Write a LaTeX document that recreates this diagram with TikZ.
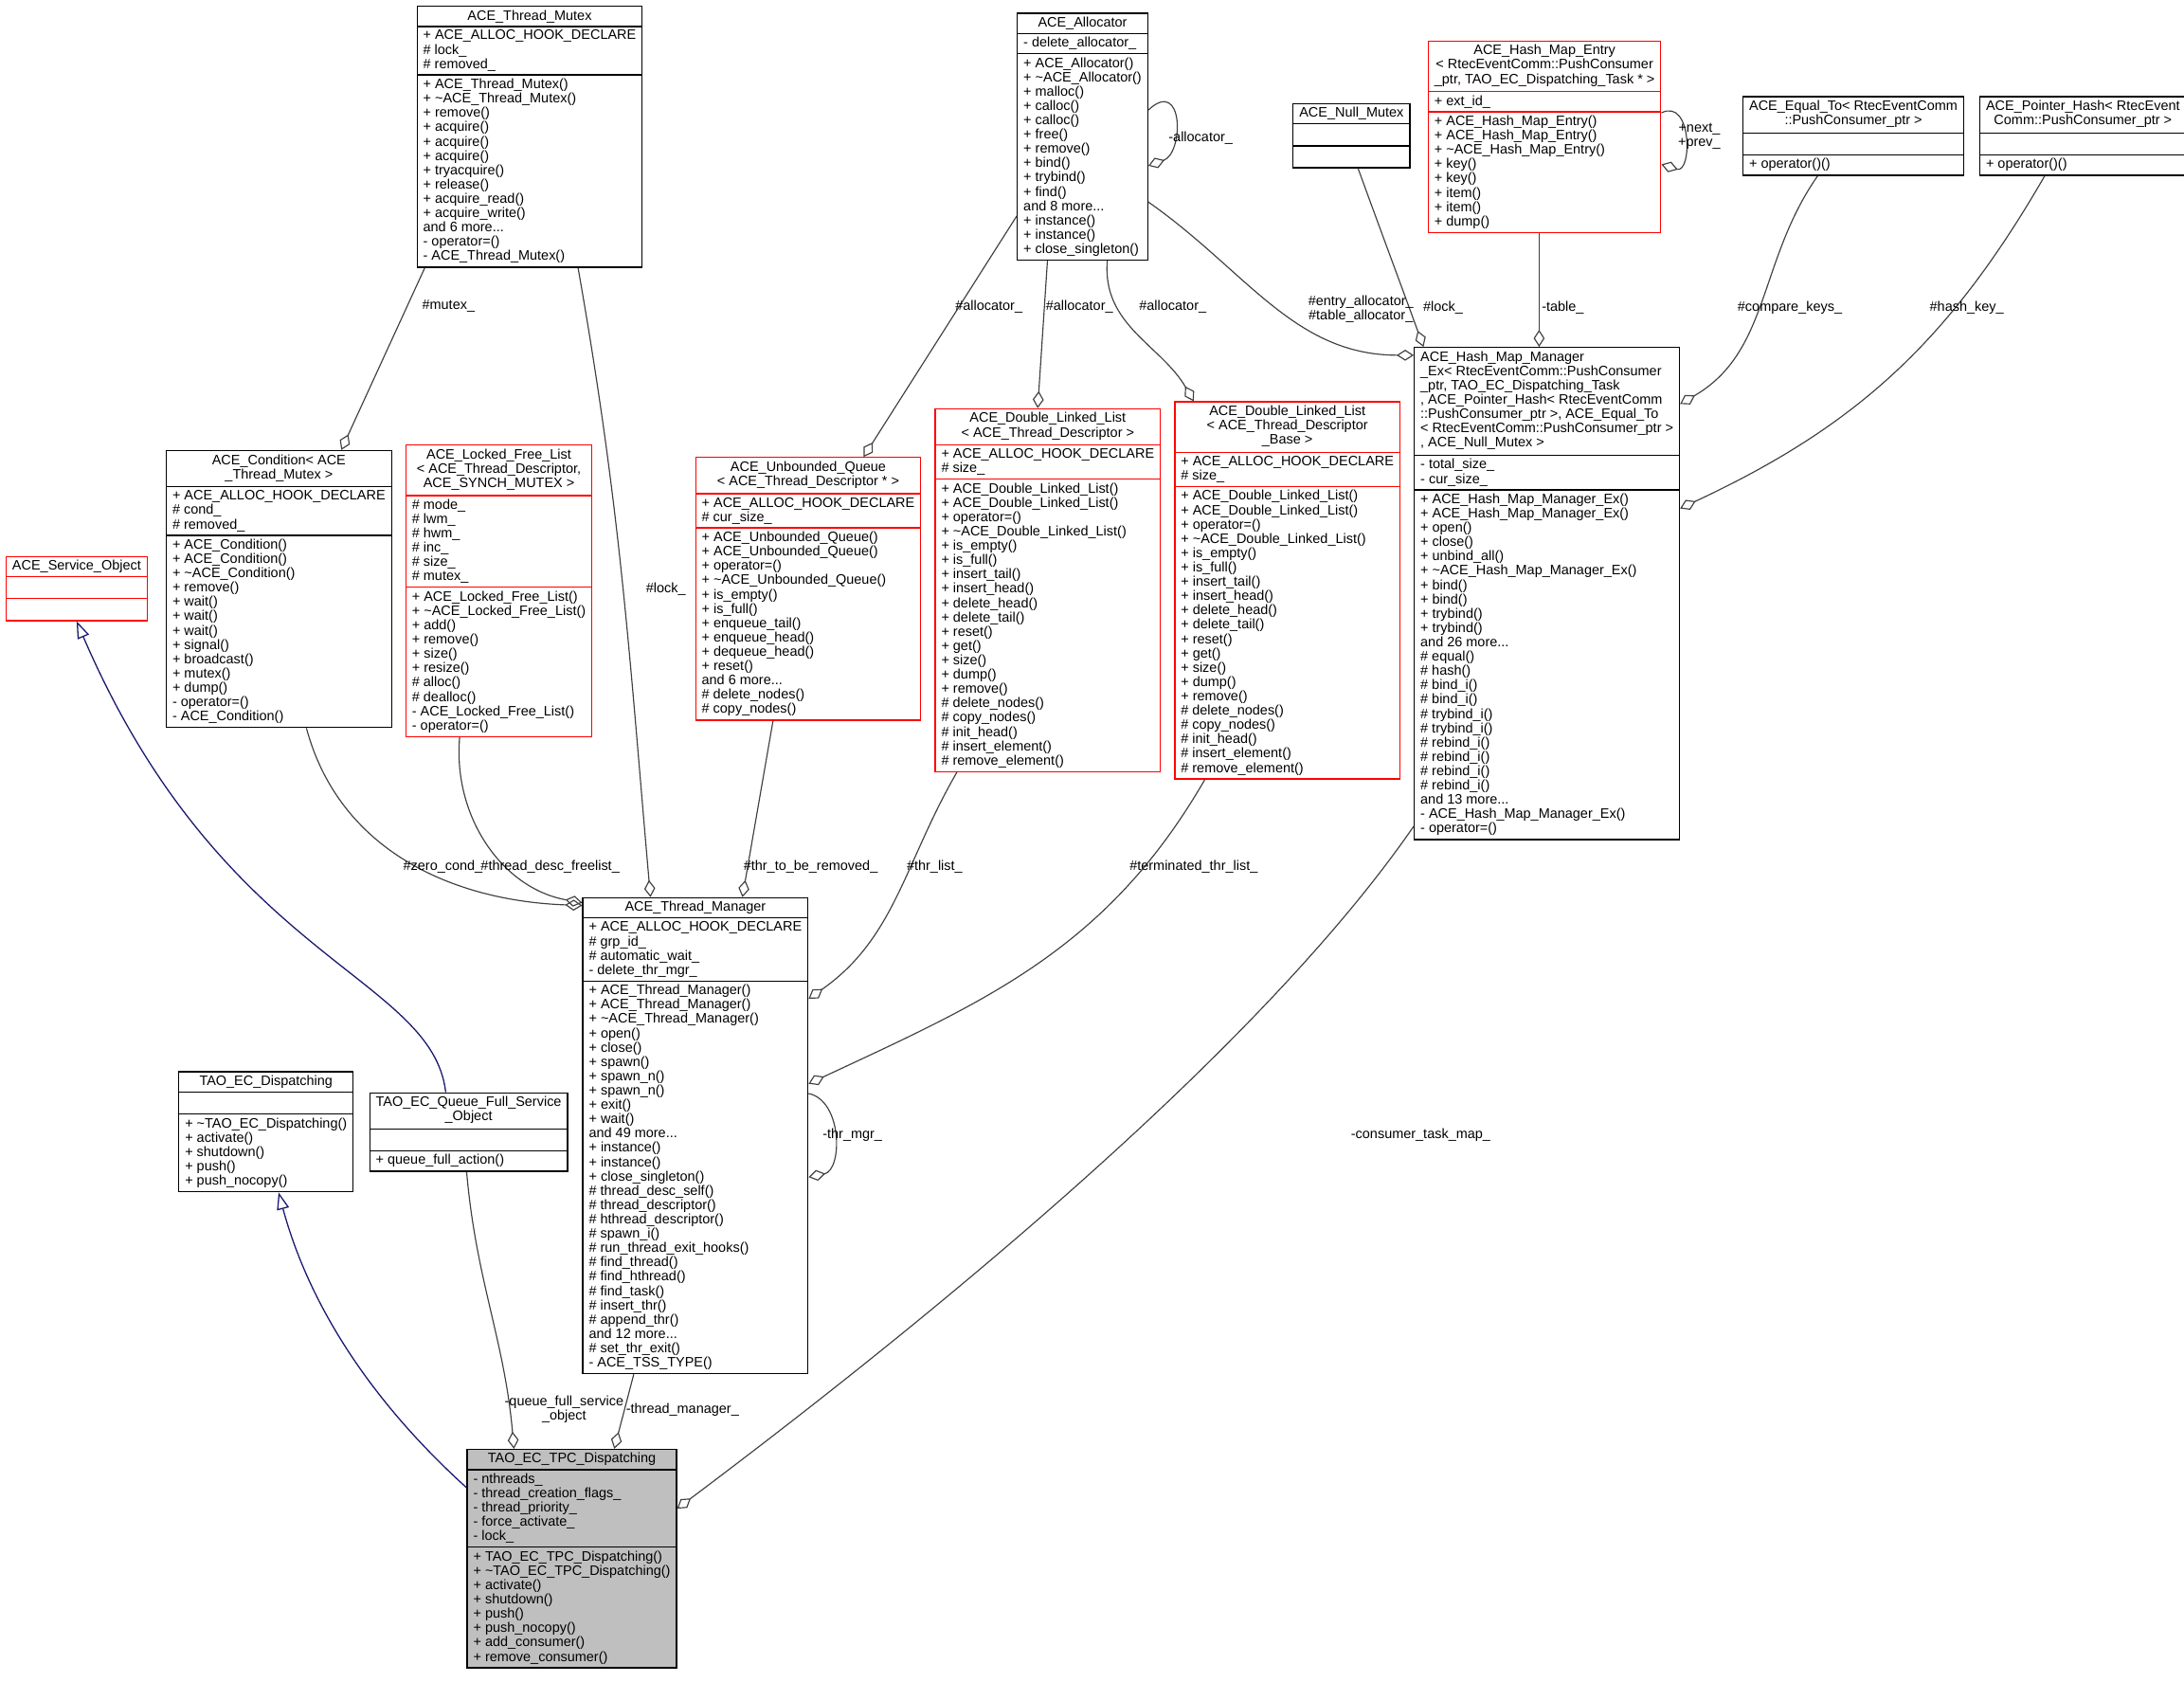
\documentclass[tikz,border=0pt]{standalone}
\usepackage{fontspec}
\setmainfont{Liberation Sans}
\usetikzlibrary{shapes.multipart,arrows.meta,calc}
\newcommand{\ttl}[1]{\begin{tabular}{@{}c@{}}#1\end{tabular}}
\newcommand{\tl}{\textasciitilde}
\definecolor{navyblue}{RGB}{25,25,112}
\tikzset{
  cls/.style={draw=black, fill=white, rectangle split, rectangle split parts=3,
    rectangle split part align={center,left,left}, align=left, anchor=north west,
    inner xsep=2.5pt, inner ysep=1.3pt, font=\fontsize{5.6}{5.85}\selectfont, line width=0.5pt},
  redcls/.style={cls, draw=red},
  agg/.style={-{Diamond[open,length=7pt,width=4.5pt]}, draw=black!75, line width=0.45pt},
  inh/.style={-{Triangle[open,length=7pt,width=5pt]}, draw=navyblue, line width=0.5pt},
  lbl/.style={font=\fontsize{5.6}{5.85}\selectfont, inner sep=0.5pt, align=center}
}
\begin{document}
\begin{tikzpicture}[x=0.02cm,y=-0.02cm]
  \useasboundingbox (0,0) rectangle (1568,1207);
  % classes
  \node[cls, minimum width=3.14cm] (thread mutex) at (299,4) {ACE\_Thread\_Mutex
    \nodepart{two}+ ACE\_ALLOC\_HOOK\_DECLARE\\\# lock\_\\\# removed\_
    \nodepart{three}+ ACE\_Thread\_Mutex()\\+ \tl ACE\_Thread\_Mutex()\\+ remove()\\+ acquire()\\+ acquire()\\+ acquire()\\+ tryacquire()\\+ release()\\+ acquire\_read()\\+ acquire\_write()\\and 6 more...\\- operator=()\\- ACE\_Thread\_Mutex()};
  \node[cls, minimum width=1.82cm] (allocator) at (730,9) {ACE\_Allocator
    \nodepart{two}- delete\_allocator\_
    \nodepart{three}+ ACE\_Allocator()\\+ \tl ACE\_Allocator()\\+ malloc()\\+ calloc()\\+ calloc()\\+ free()\\+ remove()\\+ bind()\\+ trybind()\\+ find()\\and 8 more...\\+ instance()\\+ instance()\\+ close\_singleton()};
  \node[redcls, minimum width=3.24cm] (hash entry) at (1025,29) {\ttl{ACE\_Hash\_Map\_Entry\\< RtecEventComm::PushConsumer\\\_ptr, TAO\_EC\_Dispatching\_Task * >}
    \nodepart{two}+ ext\_id\_
    \nodepart{three}+ ACE\_Hash\_Map\_Entry()\\+ ACE\_Hash\_Map\_Entry()\\+ \tl ACE\_Hash\_Map\_Entry()\\+ key()\\+ key()\\+ item()\\+ item()\\+ dump()};
  \node[cls, minimum width=1.6cm] (null mutex) at (928,74) {ACE\_Null\_Mutex
    \nodepart{two}\strut \nodepart{three}\strut};
  \node[cls, minimum width=3.08cm] (equal to) at (1251,69) {\ttl{ACE\_Equal\_To< RtecEventComm\\::PushConsumer\_ptr >}
    \nodepart{two}\strut \nodepart{three}+ operator()()};
  \node[cls, minimum width=2.86cm] (pointer hash) at (1421,69) {\ttl{ACE\_Pointer\_Hash< RtecEvent\\Comm::PushConsumer\_ptr >}
    \nodepart{two}\strut \nodepart{three}+ operator()()};
  \node[cls, minimum width=3.64cm] (hash manager) at (1015,249) {\begin{tabular}{@{}l@{}}ACE\_Hash\_Map\_Manager\\\_Ex< RtecEventComm::PushConsumer\\\_ptr, TAO\_EC\_Dispatching\_Task\\*, ACE\_Pointer\_Hash< RtecEventComm\\::PushConsumer\_ptr >, ACE\_Equal\_To\\< RtecEventComm::PushConsumer\_ptr >\\, ACE\_Null\_Mutex >\end{tabular}
    \nodepart{two}- total\_size\_\\- cur\_size\_
    \nodepart{three}+ ACE\_Hash\_Map\_Manager\_Ex()\\+ ACE\_Hash\_Map\_Manager\_Ex()\\+ open()\\+ close()\\+ unbind\_all()\\+ \tl ACE\_Hash\_Map\_Manager\_Ex()\\+ bind()\\+ bind()\\+ trybind()\\+ trybind()\\and 26 more...\\\# equal()\\\# hash()\\\# bind\_i()\\\# bind\_i()\\\# trybind\_i()\\\# trybind\_i()\\\# rebind\_i()\\\# rebind\_i()\\\# rebind\_i()\\\# rebind\_i()\\and 13 more...\\- ACE\_Hash\_Map\_Manager\_Ex()\\- operator=()};
  \node[redcls, minimum width=1.98cm] (service object) at (4,399) {ACE\_Service\_Object
    \nodepart{two}\strut \nodepart{three}\strut};
  \node[cls, minimum width=3.12cm] (condition) at (119,323) {\ttl{ACE\_Condition< ACE\\\_Thread\_Mutex >}
    \nodepart{two}+ ACE\_ALLOC\_HOOK\_DECLARE\\\# cond\_\\\# removed\_
    \nodepart{three}+ ACE\_Condition()\\+ ACE\_Condition()\\+ \tl ACE\_Condition()\\+ remove()\\+ wait()\\+ wait()\\+ wait()\\+ signal()\\+ broadcast()\\+ mutex()\\+ dump()\\- operator=()\\- ACE\_Condition()};
  \node[redcls, minimum width=2.58cm] (free list) at (291,319) {\ttl{ACE\_Locked\_Free\_List\\< ACE\_Thread\_Descriptor,\\ ACE\_SYNCH\_MUTEX >}
    \nodepart{two}\# mode\_\\\# lwm\_\\\# hwm\_\\\# inc\_\\\# size\_\\\# mutex\_
    \nodepart{three}+ ACE\_Locked\_Free\_List()\\+ \tl ACE\_Locked\_Free\_List()\\+ add()\\+ remove()\\+ size()\\+ resize()\\\# alloc()\\\# dealloc()\\- ACE\_Locked\_Free\_List()\\- operator=()};
  \node[redcls, minimum width=3.12cm] (unbounded queue) at (499,328) {\ttl{ACE\_Unbounded\_Queue\\< ACE\_Thread\_Descriptor * >}
    \nodepart{two}+ ACE\_ALLOC\_HOOK\_DECLARE\\\# cur\_size\_
    \nodepart{three}+ ACE\_Unbounded\_Queue()\\+ ACE\_Unbounded\_Queue()\\+ operator=()\\+ \tl ACE\_Unbounded\_Queue()\\+ is\_empty()\\+ is\_full()\\+ enqueue\_tail()\\+ enqueue\_head()\\+ dequeue\_head()\\+ reset()\\and 6 more...\\\# delete\_nodes()\\\# copy\_nodes()};
  \node[redcls, minimum width=3.12cm] (linked list) at (671,293) {\ttl{ACE\_Double\_Linked\_List\\< ACE\_Thread\_Descriptor >}
    \nodepart{two}+ ACE\_ALLOC\_HOOK\_DECLARE\\\# size\_
    \nodepart{three}+ ACE\_Double\_Linked\_List()\\+ ACE\_Double\_Linked\_List()\\+ operator=()\\+ \tl ACE\_Double\_Linked\_List()\\+ is\_empty()\\+ is\_full()\\+ insert\_tail()\\+ insert\_head()\\+ delete\_head()\\+ delete\_tail()\\+ reset()\\+ get()\\+ size()\\+ dump()\\+ remove()\\\# delete\_nodes()\\\# copy\_nodes()\\\# init\_head()\\\# insert\_element()\\\# remove\_element()};
  \node[redcls, minimum width=3.12cm] (linked list base) at (843,288) {\ttl{ACE\_Double\_Linked\_List\\< ACE\_Thread\_Descriptor\\\_Base >}
    \nodepart{two}+ ACE\_ALLOC\_HOOK\_DECLARE\\\# size\_
    \nodepart{three}+ ACE\_Double\_Linked\_List()\\+ ACE\_Double\_Linked\_List()\\+ operator=()\\+ \tl ACE\_Double\_Linked\_List()\\+ is\_empty()\\+ is\_full()\\+ insert\_tail()\\+ insert\_head()\\+ delete\_head()\\+ delete\_tail()\\+ reset()\\+ get()\\+ size()\\+ dump()\\+ remove()\\\# delete\_nodes()\\\# copy\_nodes()\\\# init\_head()\\\# insert\_element()\\\# remove\_element()};
  \node[cls, minimum width=3.12cm] (thread manager) at (418,644) {ACE\_Thread\_Manager
    \nodepart{two}+ ACE\_ALLOC\_HOOK\_DECLARE\\\# grp\_id\_\\\# automatic\_wait\_\\- delete\_thr\_mgr\_
    \nodepart{three}+ ACE\_Thread\_Manager()\\+ ACE\_Thread\_Manager()\\+ \tl ACE\_Thread\_Manager()\\+ open()\\+ close()\\+ spawn()\\+ spawn\_n()\\+ spawn\_n()\\+ exit()\\+ wait()\\and 49 more...\\+ instance()\\+ instance()\\+ close\_singleton()\\\# thread\_desc\_self()\\\# thread\_descriptor()\\\# hthread\_descriptor()\\\# spawn\_i()\\\# run\_thread\_exit\_hooks()\\\# find\_thread()\\\# find\_hthread()\\\# find\_task()\\\# insert\_thr()\\\# append\_thr()\\and 12 more...\\\# set\_thr\_exit()\\- ACE\_TSS\_TYPE()};
  \node[cls, minimum width=2.42cm] (dispatching) at (128,769) {TAO\_EC\_Dispatching
    \nodepart{two}\strut
    \nodepart{three}+ \tl TAO\_EC\_Dispatching()\\+ activate()\\+ shutdown()\\+ push()\\+ push\_nocopy()};
  \node[cls, minimum width=2.72cm] (queue full) at (265,784) {\ttl{TAO\_EC\_Queue\_Full\_Service\\\_Object}
    \nodepart{two}\strut \nodepart{three}+ queue\_full\_action()};
  \node[cls, fill=black!25, minimum width=2.9cm] (tpc dispatching) at (335,1040) {TAO\_EC\_TPC\_Dispatching
    \nodepart{two}- nthreads\_\\- thread\_creation\_flags\_\\- thread\_priority\_\\- force\_activate\_\\- lock\_
    \nodepart{three}+ TAO\_EC\_TPC\_Dispatching()\\+ \tl TAO\_EC\_TPC\_Dispatching()\\+ activate()\\+ shutdown()\\+ push()\\+ push\_nocopy()\\+ add\_consumer()\\+ remove\_consumer()};
  % connectors
  \draw[agg] ($(thread mutex.south west)+(6,0)$) -- (condition.north -| 245,0);
  \draw[agg] ($(thread mutex.south west)+(116,0)$) to[out=-80,in=95] (thread manager.north -| 467,0);
  \draw[agg] ($(allocator.north west)+(0,146)$) -- (unbounded queue.north -| 620,0);
  \draw[agg] ($(allocator.south west)+(22,0)$) -- (linked list.north -| 745,0);
  \draw[agg] ($(allocator.south west)+(65,0)$) to[out=-95,in=120] (linked list base.north -| 857,0);
  \draw[agg] ($(allocator.north east)+(0,70)$) .. controls (850,55) and (850,110) .. ($(allocator.north east)+(0,110)$);
  \draw[agg] ($(allocator.north east)+(0,136)$) to[out=-35,in=180] ($(hash manager.north west)+(0,6)$);
  \draw[agg] (null mutex.south -| 975,0) to[out=-70,in=110] ($(hash manager.north west)+(7,0)$);
  \draw[agg] (hash entry.south -| 1105,0) -- (hash manager.north -| 1105,0);
  \draw[agg] ($(hash entry.north east)+(0,52)$) .. controls (1215,70) and (1215,125) .. ($(hash entry.north east)+(0,89)$);
  \draw[agg] (equal to.south -| 1305,0) to[out=-125,in=30] ($(hash manager.north east)+(0,41)$);
  \draw[agg] (pointer hash.south -| 1468,0) to[out=-120,in=25] ($(hash manager.north east)+(0,116)$);
  \draw[agg] ($(condition.south west)+(101,0)$) to[out=-75,in=178] ($(thread manager.north west)+(0,6)$);
  \draw[agg] ($(free list.south west)+(39,0)$) to[out=-95,in=170] ($(thread manager.north west)+(0,4)$);
  \draw[agg] (unbounded queue.south -| 555,0) -- (thread manager.north -| 533,0);
  \draw[agg] (linked list.south -| 687,0) to[out=-120,in=35] ($(thread manager.north east)+(0,73)$);
  \draw[agg] (linked list base.south -| 865,0) to[out=-120,in=25] ($(thread manager.north east)+(0,134)$);
  \draw[agg] ($(thread manager.north east)+(0,141)$) .. controls (605,790) and (605,840) .. ($(thread manager.north east)+(0,201)$);
  \draw[inh] (queue full.north -| 320,0) .. controls (310,700) and (160,690) .. (service object.south -| 55,0);
  \draw[inh] ($(tpc dispatching.north west)+(0,28)$) .. controls (260,1000) and (220,930) .. (dispatching.south -| 200,0);
  \draw[agg] (queue full.south -| 335,0) to[out=-85,in=95] (tpc dispatching.north -| 369,0);
  \draw[agg] (thread manager.south -| 455,0) -- (tpc dispatching.north -| 441,0);
  \draw[agg] ($(hash manager.south west)+(0,-10)$) .. controls (900,760) and (650,960) .. ($(tpc dispatching.north east)+(0,43)$);
  % labels
  \node[lbl] (mutex label) at (322,220) {\#mutex\_};
  \node[lbl] (lock label) at (478,423) {\#lock\_};
  \node[lbl] (alloc label a) at (710,220) {\#allocator\_};
  \node[lbl] (alloc label b) at (775,220) {\#allocator\_};
  \node[lbl] (alloc label c) at (842,220) {\#allocator\_};
  \node[lbl] (alloc self label) at (862,99) {-allocator\_};
  \node[lbl] (entry alloc label) at (977,222) {\#entry\_allocator\_\\\#table\_allocator\_};
  \node[lbl] (null lock label) at (1036,221) {\#lock\_};
  \node[lbl] (table label) at (1122,221) {-table\_};
  \node[lbl] (next label) at (1220,98) {+next\_\\+prev\_};
  \node[lbl] (compare label) at (1285,221) {\#compare\_keys\_};
  \node[lbl] (hash key label) at (1412,221) {\#hash\_key\_};
  \node[lbl] (zero cond label) at (318,622) {\#zero\_cond\_};
  \node[lbl] (freelist label) at (395,622) {\#thread\_desc\_freelist\_};
  \node[lbl] (removed label) at (582,622) {\#thr\_to\_be\_removed\_};
  \node[lbl] (thr list label) at (671,622) {\#thr\_list\_};
  \node[lbl] (terminated label) at (857,622) {\#terminated\_thr\_list\_};
  \node[lbl] (thr mgr label) at (612,815) {-thr\_mgr\_};
  \node[lbl] (consumer label) at (1020,815) {-consumer\_task\_map\_};
  \node[lbl] (queue full label) at (405,1012) {-queue\_full\_service\\\_object};
  \node[lbl] (manager label) at (490,1012) {-thread\_manager\_};
\end{tikzpicture}
\end{document}
